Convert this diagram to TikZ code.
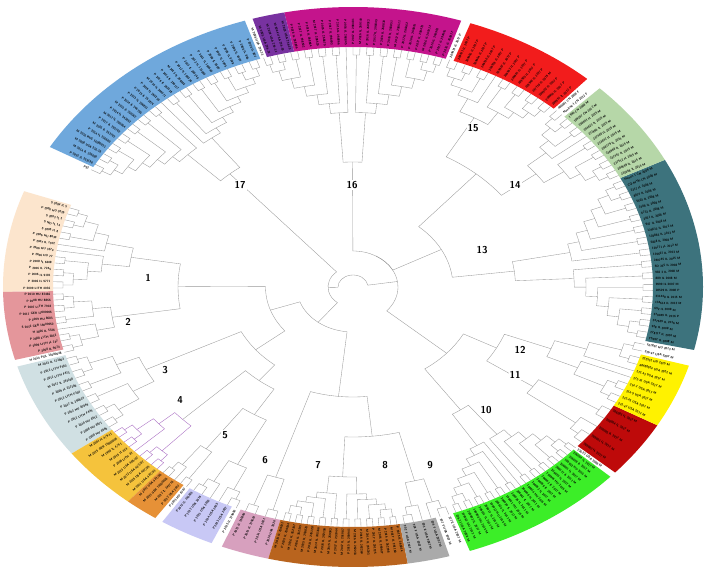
\documentclass[tikz,border=0pt]{standalone}
\usepackage{tikz}

\definecolor{bandteal}{RGB}{61,115,125}
\definecolor{bandlgreen}{RGB}{182,215,168}
\definecolor{bandred}{RGB}{242,28,28}
\definecolor{bandmagenta}{RGB}{196,20,140}
\definecolor{bandpurple}{RGB}{120,50,160}
\definecolor{bandblue}{RGB}{111,168,220}
\definecolor{bandpeach}{RGB}{252,229,205}
\definecolor{bandpink}{RGB}{228,150,155}
\definecolor{bandpale}{RGB}{208,224,227}
\definecolor{bandyorange}{RGB}{245,195,60}
\definecolor{bandorange}{RGB}{230,145,55}
\definecolor{bandlavender}{RGB}{200,200,245}
\definecolor{bandmauve}{RGB}{215,160,190}
\definecolor{bandbrown}{RGB}{185,100,30}
\definecolor{bandgray}{RGB}{170,170,170}
\definecolor{bandgreen}{RGB}{60,238,40}
\definecolor{banddarkred}{RGB}{190,10,10}
\definecolor{bandyellow}{RGB}{255,242,0}

\newcommand{\tipr}{240}
\newcommand{\cherryr}{232}

% one half of a clade: cherries, then a ladder down to #5
\newcommand{\ladder}[5]{%
  \pgfmathtruncatemacro{\lnu}{ceil(#3/2)}%
  \foreach \k in {1,...,\lnu}{%
    \pgfmathsetmacro{\lfa}{#1+(2*\k-2)*(#2)}%
    \pgfmathtruncatemacro{\lhas}{(2*\k<=#3) ? 1 : 0}%
    \ifnum\lhas=1
      \pgfmathsetmacro{\lfb}{\lfa+(#2)}%
      \draw[branch] (\lfa:\tipr) -- (\lfa:\cherryr)
        arc[start angle=\lfa, end angle=\lfb, radius=\cherryr] -- (\lfb:\tipr);
      \pgfmathsetmacro{\lua}{\lfa+(#2)/2}%
      \edef\lur{\cherryr}%
    \else
      \edef\lua{\lfa}\edef\lur{\tipr}%
    \fi
    \ifnum\k=1
      \xdef\curang{\lua}\xdef\currad{\lur}%
    \else
      \pgfmathsetmacro{\ljr}{#4-(\k-2)*(#4-#5)/max(\lnu-2,1)}%
      \draw[branch] (\curang:\currad) -- (\curang:\ljr)
        arc[start angle=\curang, end angle=\lua, radius=\ljr] -- (\lua:\lur);
      \pgfmathsetmacro{\lna}{(\curang+\lua)/2}%
      \xdef\curang{\lna}\xdef\currad{\ljr}%
    \fi
  }%
}

% clade: first angle, last angle, leaves, crown radius, macro for crown angle
\newcommand{\clade}[5]{%
  \pgfmathsetmacro{\cst}{(#2-(#1))/#3}%
  \pgfmathtruncatemacro{\cna}{ceil(#3/2)}%
  \pgfmathtruncatemacro{\cnb}{#3-\cna}%
  \pgfmathsetmacro{\crm}{(#4+224)/2}%
  \pgfmathsetmacro{\cas}{#1+\cst/2}%
  \ladder{\cas}{\cst}{\cna}{224}{\crm}%
  \xdef\firstang{\curang}\xdef\firstrad{\currad}%
  \pgfmathsetmacro{\cae}{#2-\cst/2}%
  \pgfmathsetmacro{\cmst}{-\cst}%
  \ladder{\cae}{\cmst}{\cnb}{224}{\crm}%
  \draw[branch] (\firstang:\firstrad) -- (\firstang:#4)
    arc[start angle=\firstang, end angle=\curang, radius=#4] -- (\curang:\currad);
  \pgfmathsetmacro{\ctmp}{(\firstang+\curang)/2}%
  \xdef#5{\ctmp}}

% inner node: radius, angle/radius of both children, macro for its angle
\newcommand{\joinnode}[6]{%
  \draw[branch] (#2:#3) -- (#2:#1) arc[start angle=#2, end angle=#4, radius=#1] -- (#4:#5);
  \pgfmathsetmacro{\jtmp}{(#2+#4)/2}%
  \xdef#6{\jtmp}}

\newcommand{\band}[3]{%
  \fill[#3] (#1:\tipr) arc[start angle=#1, end angle=#2, radius=\tipr]
    -- (#2:280) arc[start angle=#2, end angle=#1, radius=280] -- cycle;}

% leaf names: first angle, last angle, leaves, name prefix, list
\newcommand{\leaves}[5]{%
  \pgfmathsetmacro{\lst}{(#2-(#1))/#3}%
  \foreach \lab [count=\i] in {#5}{%
    \pgfmathsetmacro{\lan}{#1+(\i-0.5)*\lst}%
    \pgfmathsetmacro{\lphi}{atan2(sin(\lan),1.25*cos(\lan))}%
    \pgfmathtruncatemacro{\lleft}{cos(\lan)<0 ? 1 : 0}%
    \ifnum\lleft=1
      \node[leaf, anchor=east, rotate=\lphi+180] (#4\i) at (\lan:242) {\lab};
    \else
      \node[leaf, anchor=west, rotate=\lphi] (#4\i) at (\lan:242) {\lab};
    \fi}}

\begin{document}
\begin{tikzpicture}[x=1pt, y=1pt,
  branch/.style={draw=gray!80, line width=0.35pt},
  leaf/.style={font=\fontsize{3.1}{3.5}\selectfont\sffamily\bfseries, inner sep=0.1pt},
  cladeno/.style={font=\fontsize{10}{12}\selectfont\sffamily\bfseries, fill=white, inner sep=1pt}]
  \useasboundingbox (0,0) rectangle (709,578);
  \fill[white] (0,0) rectangle (709,578);

  \begin{scope}[shift={(353,291)}, xscale=1.25]
    % colour bands
    \band{-13}{27}{bandteal}
    \band{27}{45.2}{bandlgreen}
    \band{48}{70.4}{bandred}
    \band{72}{101.33}{bandmagenta}
    \band{101.33}{106.67}{bandpurple}
    \band{108}{150}{bandblue}
    \band{160}{181}{bandpeach}
    \band{181}{195.09}{bandpink}
    \band{196.5}{216.5}{bandpale}
    \band{216.5}{230}{bandyorange}
    \band{230}{235.6}{bandorange}
    \band{237}{246.17}{bandlavender}
    \band{248}{256}{bandmauve}
    \band{256}{279}{bandbrown}
    \band{279}{286}{bandgray}
    \band{289.5}{317.34}{bandgreen}
    \band{318.5}{330.4}{banddarkred}
    \band{330.4}{343.68}{bandyellow}

    % clades
    \clade{-13}{27}{28}{130}{\cladeXIII}
    \clade{27}{48}{15}{185}{\cladeXIV}
    \clade{48}{72}{15}{195}{\cladeXV}
    \clade{72}{108}{27}{125}{\cladeXVI}
    \clade{108}{151.5}{29}{150}{\cladeXVII}
    \clade{160}{181}{14}{180}{\cladeI}
    \clade{181}{196.5}{11}{195}{\cladeII}
    \clade{196.5}{216.5}{12}{185}{\cladeIII}
    \begin{scope}[branch/.style={draw=blue!45!purple!60, line width=0.35pt}]
      \clade{216.5}{230}{9}{190}{\cladeIV}
    \end{scope}
    \clade{230}{237}{5}{200}{\cladeV}
    \clade{237}{248}{6}{200}{\cladeVI}
    \clade{248}{256}{4}{200}{\cladeVII}
    \clade{256}{279}{20}{190}{\cladeVIII}
    \clade{279}{289.5}{6}{200}{\cladeIX}
    \clade{289.5}{318.5}{25}{150}{\cladeX}
    \clade{318.5}{330.4}{5}{175}{\cladeXI}
    \clade{330.4}{347}{10}{170}{\cladeXII}

    % backbone
    \joinnode{150}{\cladeXV}{195}{\cladeXIV}{185}{\ndT}
    \joinnode{80}{\ndT}{150}{\cladeXIII}{130}{\ndTT}
    \joinnode{36}{\cladeXVI}{125}{\ndTT}{80}{\ndA}
    \joinnode{130}{\cladeXII}{170}{\cladeXI}{175}{\ndE}
    \joinnode{100}{\ndE}{130}{\cladeX}{150}{\ndF}
    \pgfmathsetmacro{\ndFneg}{\ndF-360}
    \joinnode{36}{\ndA}{36}{\ndFneg}{100}{\ndAA}
    \joinnode{150}{\cladeIX}{200}{\cladeVIII}{190}{\ndG}
    \joinnode{110}{\ndG}{150}{\cladeVII}{200}{\ndH}
    \joinnode{150}{\cladeVI}{200}{\cladeV}{200}{\ndJ}
    \joinnode{120}{\ndJ}{150}{\cladeIV}{190}{\ndK}
    \joinnode{100}{\ndK}{120}{\cladeIII}{185}{\ndL}
    \joinnode{140}{\cladeII}{195}{\cladeI}{180}{\ndM}
    \joinnode{70}{\ndL}{100}{\ndM}{140}{\ndN}
    \joinnode{45}{\ndN}{70}{\ndH}{110}{\ndP}
    \joinnode{20}{\cladeXVII}{150}{\ndP}{45}{\ndO}
    \joinnode{12}{\ndAA}{36}{\ndO}{20}{\ndRoot}

    % leaf names
    \leaves{-13}{27}{28}{m-}{T5052 IL 2008 M, 278117 IL 2016 M, 928 IL 2008 M, 247639 IL 2016 M,
      270049 IL 2016 P, 692 IL 2008 M, 134614 IL 2012 M, 231448 IL 2015 M, 28529 IL 2008 P,
      9999 IL 2007 M, 889 IL 2008 M, 983 2 IL 2008 M, SD 235 IL 2008 M, 240745 IL 2015 M,
      139667 IL 2012 M, 129771 IL 2012 M, 5828 IL 2008 M, 178863 IL 2013 M, 129632 IL 2012 M,
      947 IL 2008 M, 2021 IL 2008 M, 6733 IL 2008 M, 7408 IL 2008 M, 5402 IL 2008 M,
      8874 IL 2008 M, 2317 IL 2008 M, CQ-MYX-CN 2008 M, Hunan-1 CN 2009 M}
    \leaves{27}{48}{15}{n-}{233668 IL 2015 M, 204699 IL 2015 M, 237512 IL 2015 M, 237457 IL 2015 M,
      236968 IL 2015 M, 208779 IL 2015 M, 233842 IL 2015 M, 237480 IL 2015 M, 237496 IL 2015 M,
      204823 IL 2015 M, 208651 IL 2015 M, 189207 CN 2012 M, 1996 CN 2008 M,
      Nanjing-1 CN 2012 F, 466001 CN 2008 F}
    \leaves{48}{72}{15}{o-}{209951 IL 2017 P, 209956 IL 2017 P, 209902 IL 2017 P, 237110 IL 2015 M,
      209948 IL 2017 P, 209903 IL 2017 P, 209961 IL 2017 P, 209952 IL 2017 P, 209907 IL 2017 P,
      209959 IL 2017 P, 209910 IL 2017 P, 209964 IL 2017 P, 209906 IL 2017 P, 209911 IL 2017 P,
      209913 IL 2017 P}
    \leaves{72}{108}{27}{p-}{P 2016 IL 268817, P 2017 IL 298455, P 2016 IL 268903, M 2016 IL 269112,
      P 2017 IL 298470, P 2016 IL 268824, P 2017 IL 298462, M 2017 IL 298511, P 2016 IL 268851,
      P 2016 IL 268830, P 2017 IL 298449, P 2016 IL 268912, M 2016 IL 269140, P 2017 IL 298481,
      P 2016 IL 268845, P 2016 IL 268866, P 2017 IL 298493, P 2016 IL 268879, M 2017 IL 298520,
      P 2016 IL 268884, P 2017 IL 298502, P 2016 IL 268896, M 2003 USA 236-29, M 2004 USA 236-30,
      M 2004 USA 236-31, M 2005 USA 236-32, M 2006 USA 236-33}
    \leaves{108}{151.5}{29}{q-}{P 2006 IL 807, P 2006 IL 866, P 2006 IL 8104, P 2006 IL 8188,
      P 2007 IL 1905, P 2008 IL 5500, P 2011 IL 166640, P 2012 IL 173850, P 2013 IL 200148,
      P 2012 IL 180326, M 2013 IL 208592, P 2014 IL 230117, P 2016 IL 263518, M 2016 IL 264071,
      P 2016 IL 265230, P 2015 IL 251874, P 2013 IL 206833, P 2014 IL 246705, M 2015 IL 250362,
      P 2014 IL 243852, M 2017 IL 296964, P 2017 IL 295762, M 2016 IL 263702, P 2014 IL 236600,
      M 2016 RUS 16000023, M 2008 USA 236-38, M 2014 IL 236880, P 2015 IL 253196, P52}
    \leaves{160}{181}{14}{a-}{S 2004 IL 5, P 2006 HU 2026, S 2003 IL 3, S ND IL 14, S 2005 IL 8,
      P 2006 HU 8630, P 2007 IL 1972, P 2006 HU 3374, P 2006 HU 77, P 2008 IL 6608,
      P 2006 IL 7245, P 2006 IL 9181, P 2006 IL 9771, P 2009 LITH 4036}
    \leaves{181}{196.5}{11}{b-}{P 2010 HU 87466, P 2008 HU 8866, P 2007 LITH 7918,
      P 2017 GER 17000006, P 2009 HU 8683, S 2016 GER 16000052, H 2006 IL 5326,
      P 2008 LITH 2832, P 2009 LITH IL 747, P 2008 IL 9074, H 2014 POL 13000048}
    \leaves{196.5}{216.5}{12}{c-}{M 2012 IL 173862, P 2012 LITH F562, P 2012 LITH F473,
      M 2017 IL 293268, P 2009 IL 237286, P 2013 LITH F304, P 2017 IL 290624, P 2012 HU 87849,
      P 2012 LITH F445, P 2010 HU 8512, P 2008 HU 8671, P 2008 HU 8666}
    \leaves{216.5}{230}{9}{d-}{{M 2001 IL 4/9-11}, M 2015 GER 15000006, {M 1998 IL 4/9-1},
      M 2016 IL 614, P 2006 LITH 81, {M 2013 USA 486/07}, {M 2012 USA 483/07},
      {M 2015 USA 487/05}, {M 2011 USA 482/03}}
    \leaves{230}{237}{5}{e-}{{M 2012 USA 481/06}, M 2013 GER 13000026, M 2012 IL 241716,
      P 2012 USA 2017, P 2013 HU 8767}
    \leaves{237}{248}{6}{f-}{P 2012 IL 236803, P 2012 USA 2019, P 2013 USA 2020,
      P 2014 USA 2025, P 2013 USA 2027, P 2015 IL 279680}
    \leaves{248}{256}{4}{g-}{P 2012 IL 236806, P 2015 IL 279681, P 2014 USA 2021, P 2016 USA 2026}
    \leaves{256}{279}{20}{h-}{M 2015 IL 259811, P 2015 IL 259834, M 2016 IL 262107, P 2016 IL 262145,
      M 2015 IL 259870, P 2014 IL 245120, M 2014 IL 245166, P 2016 IL 262190, M 2015 IL 259902,
      P 2017 IL 291044, M 2017 IL 291087, P 2015 IL 259941, M 2016 IL 262233, P 2016 IL 262260,
      M 2014 IL 245203, P 2017 IL 291125, M 2015 IL 259977, P 2016 IL 262298, M 2017 IL 291160,
      P 2015 IL 260014}
    \leaves{279}{289.5}{6}{i-}{202 F USA 2007 M, 204 F USA 2007 M, 203 E USA 2007 M,
      209 F USA 2007 M, 207 F USA 2007 M, 227 E USA 2007 M}
    \leaves{289.5}{318.5}{25}{j-}{236-31 USA 2008 M, 199563 HU 2012 M, 206003 IL 2017 M,
      199908 HU 2015 M, 206011 IL 2017 M, 206017 IL 2017 M, 199912 HU 2015 M, 206024 IL 2017 M,
      206030 IL 2017 M, 199921 HU 2015 M, 206036 IL 2017 M, 206041 IL 2017 M, 206048 IL 2017 M,
      199934 HU 2015 M, 206052 IL 2017 M, 206059 IL 2017 M, 206063 IL 2017 M, 199946 HU 2015 M,
      206070 IL 2017 M, 206077 IL 2017 M, 206081 IL 2017 M, 199952 HU 2015 M, 206089 IL 2017 M,
      206094 IL 2017 M, 236-23 USA 2008 M}
    \leaves{318.5}{330.4}{5}{k-}{208002 IL 2017 M, 208001 IL 2017 M, 208005 IL 2017 M,
      208004 IL 2017 M, 208003 IL 2017 M}
    \leaves{330.4}{347}{10}{l-}{272-47 USA 2017 M, 272-45 USA 2017 M, 214-9 USA 2017 M,
      214-7 USA 2017 M, 272-41 USA 2017 M, 272-43 USA 2017 M, RM88024 USA 2022 M,
      222532 HU 2015 M, 236-47 USA 2007 M, 161801 HU 2013 M}
  \end{scope}

  % clade numbers
  \node[cladeno] (c1) at (148,300) {1};
  \node[cladeno] (c2) at (128,256) {2};
  \node[cladeno] (c3) at (165,208) {3};
  \node[cladeno] (c4) at (180,178) {4};
  \node[cladeno] (c5) at (225,143) {5};
  \node[cladeno] (c6) at (265,118) {6};
  \node[cladeno] (c7) at (318,113) {7};
  \node[cladeno] (c8) at (385,113) {8};
  \node[cladeno] (c9) at (430,113) {9};
  \node[cladeno] (c10) at (486,168) {10};
  \node[cladeno] (c11) at (515,203) {11};
  \node[cladeno] (c12) at (520,228) {12};
  \node[cladeno] (c13) at (482,328) {13};
  \node[cladeno] (c14) at (515,393) {14};
  \node[cladeno] (c15) at (473,450) {15};
  \node[cladeno] (c16) at (352,393) {16};
  \node[cladeno] (c17) at (240,393) {17};
\end{tikzpicture}
\end{document}
